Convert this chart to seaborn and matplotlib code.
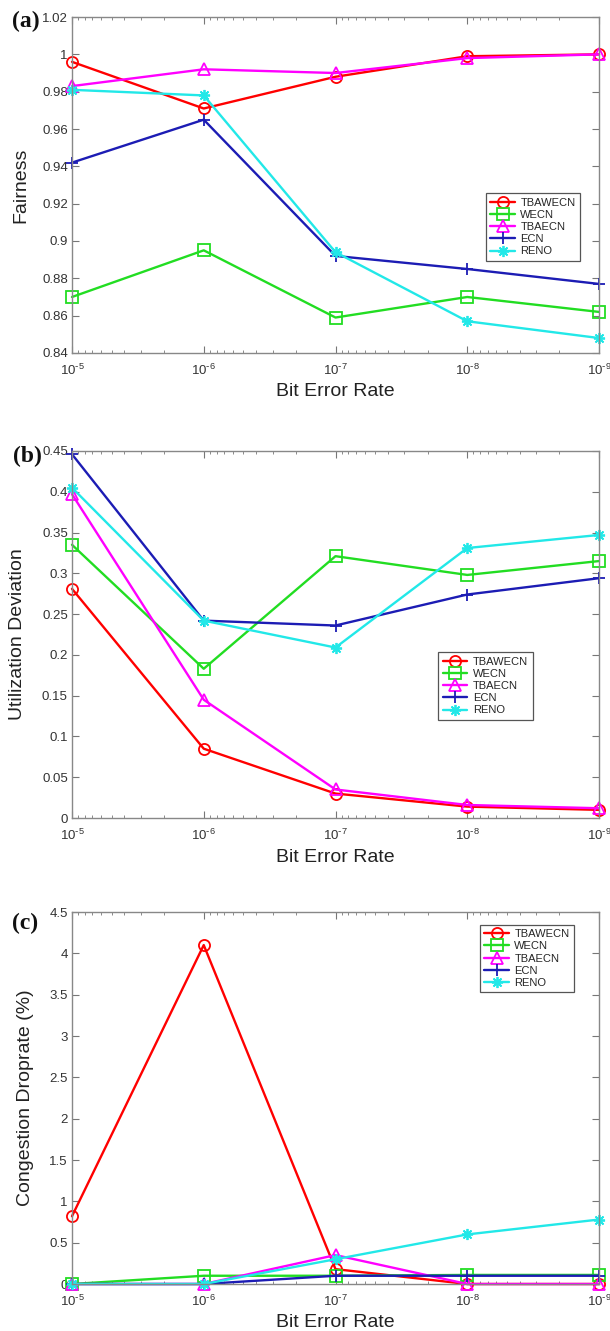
import seaborn as sns
import matplotlib.pyplot as plt
import matplotlib.ticker as mticker
import numpy as np
import pandas as pd

# bit error rates (x axis, drawn reversed on a log scale)
ber = [1e-5, 1e-6, 1e-7, 1e-8, 1e-9]

names = ["TBAWECN", "WECN", "TBAECN", "ECN", "RENO"]
colors = ["#ff0000", "#22dd22", "#ff00ff", "#1c1cb4", "#22e8e8"]
markers = ["o", "s", "^", "+", (8, 2, 0)]

# (a) fairness
fair_tbawecn = [0.996, 0.971, 0.988, 0.999, 1.000]
fair_wecn = [0.870, 0.895, 0.859, 0.870, 0.862]
fair_tbaecn = [0.983, 0.992, 0.990, 0.998, 1.000]
fair_ecn = [0.942, 0.965, 0.892, 0.885, 0.877]
fair_reno = [0.981, 0.978, 0.894, 0.857, 0.848]

# (b) utilization deviation
util_tbawecn = [0.281, 0.085, 0.030, 0.014, 0.010]
util_wecn = [0.335, 0.183, 0.321, 0.298, 0.315]
util_tbaecn = [0.397, 0.145, 0.035, 0.016, 0.012]
util_ecn = [0.446, 0.242, 0.236, 0.274, 0.294]
util_reno = [0.405, 0.242, 0.209, 0.331, 0.347]

# (c) congestion droprate (%)
drop_tbawecn = [0.82, 4.10, 0.18, 0.00, 0.00]
drop_wecn = [0.00, 0.10, 0.10, 0.11, 0.11]
drop_tbaecn = [0.00, 0.00, 0.35, 0.00, 0.00]
drop_ecn = [0.00, 0.00, 0.10, 0.10, 0.10]
drop_reno = [0.00, 0.00, 0.30, 0.60, 0.78]

sns.set_style("ticks")
plt.rcParams["font.family"] = ["Liberation Sans", "DejaVu Sans"]

fig = plt.figure(figsize=(6.10, 13.31), dpi=100)

panels = [
    dict(rect=[0.118, 0.7348, 0.864, 0.2524], tag="(a)", tagpos=(26, 21),
         series=[fair_tbawecn, fair_wecn, fair_tbaecn, fair_ecn, fair_reno],
         ylim=(0.84, 1.02), step=0.02, ylabel="Fairness", ylx=-0.08,
         leg=(482, 198, 584, 256)),
    dict(rect=[0.118, 0.3854, 0.864, 0.2758], tag="(b)", tagpos=(27, 456),
         series=[util_tbawecn, util_wecn, util_tbaecn, util_ecn, util_reno],
         ylim=(0, 0.45), step=0.05, ylabel="Utilization Deviation", ylx=-0.087,
         leg=(434, 655, 537, 717)),
    dict(rect=[0.118, 0.0353, 0.864, 0.2795], tag="(c)", tagpos=(25, 923),
         series=[drop_tbawecn, drop_wecn, drop_tbaecn, drop_ecn, drop_reno],
         ylim=(0, 4.5), step=0.5, ylabel="Congestion Droprate (%)", ylx=-0.072,
         leg=(477, 927, 577, 990)),
]


def pow_label(v, pos):
    e = int(round(np.log10(v)))
    return r"$\mathdefault{10^{\text{-}%d}}$" % abs(e)


W, H = 610, 1331
for p in panels:
    ax = fig.add_axes(p["rect"])
    ax.set_xscale("log")
    for name, vals, c, m in zip(names, p["series"], colors, markers):
        df = pd.DataFrame({"ber": ber, "val": vals})
        sns.lineplot(data=df, x="ber", y="val", ax=ax, color=c, marker=m,
                     markersize=8, markerfacecolor="none", markeredgecolor=c,
                     markeredgewidth=1.3, linewidth=1.7, label=name,
                     clip_on=False, legend=False)
    ax.set_xlim(1e-5, 1e-9)
    ax.set_ylim(*p["ylim"])
    ax.yaxis.set_major_locator(mticker.MultipleLocator(p["step"]))
    ax.yaxis.set_major_formatter(mticker.FuncFormatter(lambda v, pos: "%g" % round(v, 4)))
    ax.xaxis.set_major_locator(mticker.LogLocator(base=10, numticks=10))
    ax.xaxis.set_major_formatter(mticker.FuncFormatter(pow_label))
    ax.xaxis.set_minor_locator(mticker.LogLocator(base=10, subs=np.arange(2, 10), numticks=20))
    ax.xaxis.set_minor_formatter(mticker.NullFormatter())
    ax.tick_params(which="both", direction="in", top=True, right=True,
                   colors="#777777", labelcolor="#333333", labelsize=9.5, pad=3)
    ax.tick_params(axis="x", which="major", pad=7)
    ax.tick_params(which="major", length=5)
    ax.tick_params(which="minor", length=2.5)
    for s in ax.spines.values():
        s.set_color("#888888")
        s.set_linewidth(1.0)
    ax.set_xlabel("Bit Error Rate", fontsize=14, color="#222222", labelpad=4)
    ax.set_ylabel(p["ylabel"], fontsize=14, color="#222222")
    ax.yaxis.set_label_coords(p["ylx"], 0.5)

    x0, y0, x1, y1 = p["leg"]
    bbox = (x0 / W, 1 - y1 / H, (x1 - x0) / W, (y1 - y0) / H)
    leg = ax.legend(loc="center", bbox_to_anchor=bbox, bbox_transform=fig.transFigure,
                    fontsize=8, frameon=True, fancybox=False, framealpha=1,
                    edgecolor="#555555", handlelength=2.2, handletextpad=0.5,
                    labelspacing=0.2, borderpad=0.4, borderaxespad=0)
    leg.get_frame().set_linewidth(0.9)

    fig.text(p["tagpos"][0] / W, 1 - p["tagpos"][1] / H, p["tag"],
             family="Liberation Serif", fontweight="bold", fontsize=17,
             ha="center", va="center", color="#111111")

fig.savefig("out.png", dpi=100)
